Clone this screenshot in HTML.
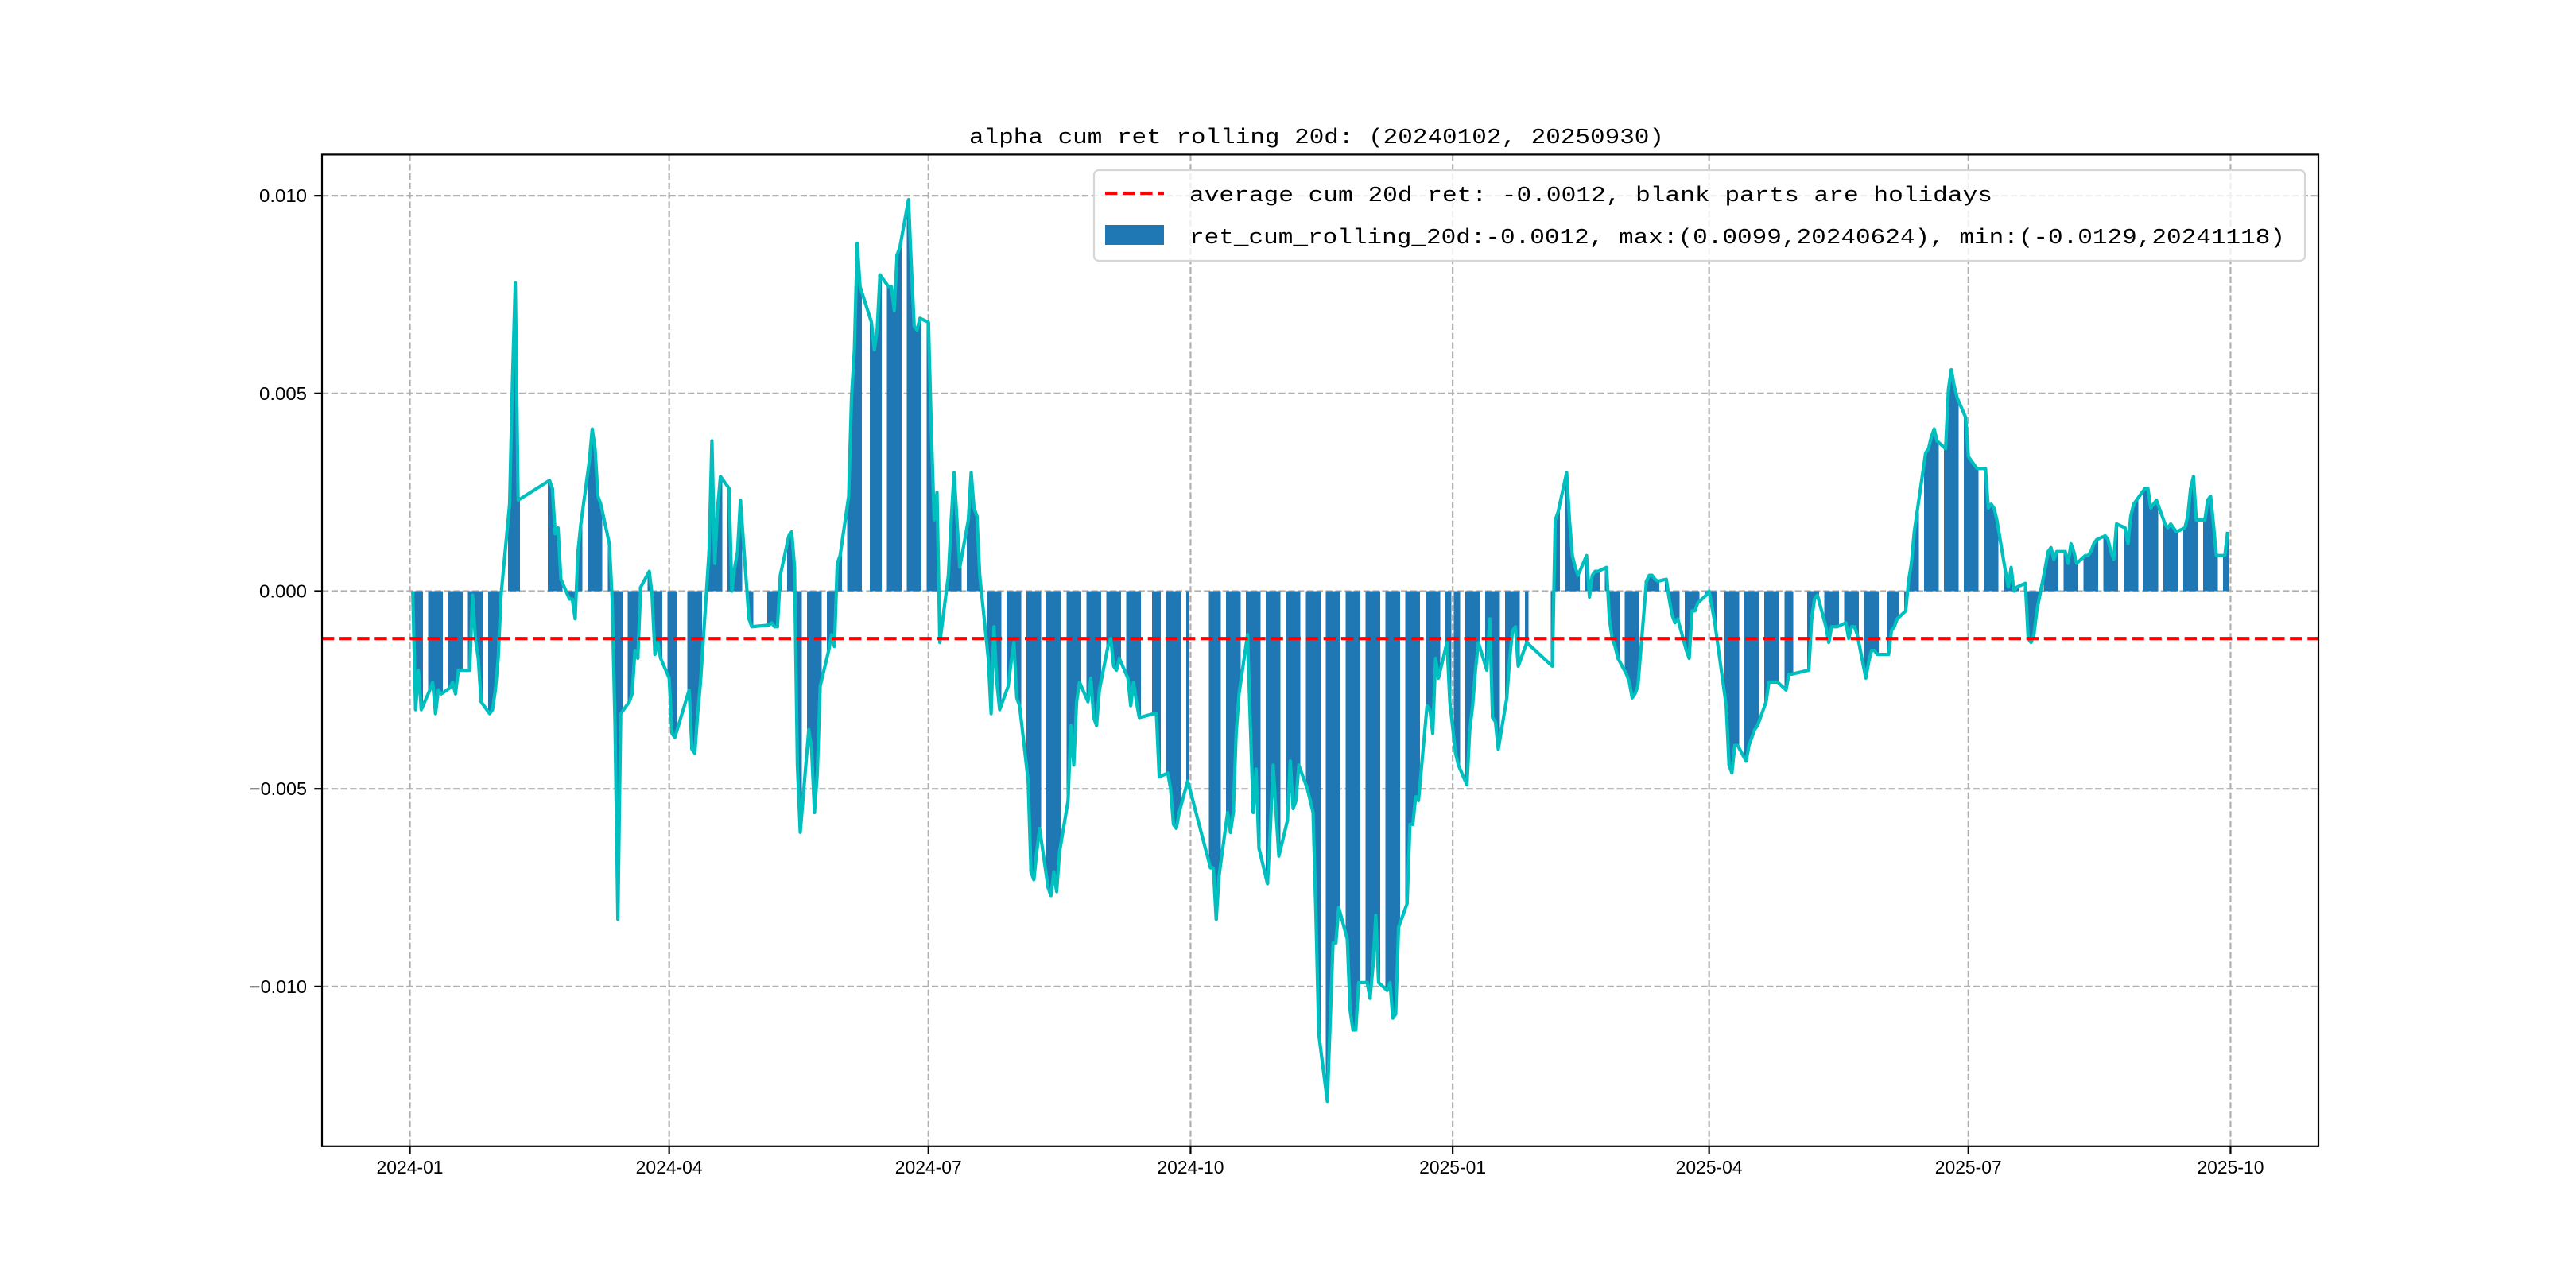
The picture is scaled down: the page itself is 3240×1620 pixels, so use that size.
<!DOCTYPE html>
<html><head><meta charset="utf-8"><title>alpha cum ret rolling 20d</title>
<style>html,body{margin:0;padding:0;background:#fff}svg{display:block}</style></head>
<body>
<svg id="chart" xmlns="http://www.w3.org/2000/svg" width="3240" height="1620" viewBox="0 0 3240 1620">
<rect x="0" y="0" width="3240" height="1620" fill="#fff"/>
<g id="grid"></g>
<g id="bars" shape-rendering="crispEdges"></g>
<g id="lineg"></g>
<g id="avg"></g>
<g id="axes"></g>
<text x="1656" y="180" font-family="Liberation Mono, monospace" font-size="27" textLength="874" lengthAdjust="spacingAndGlyphs" text-anchor="middle">alpha cum ret rolling 20d: (20240102, 20250930)</text>
<g>
<rect x="1376" y="214" width="1523" height="114" rx="6" fill="#fff" fill-opacity="0.8" stroke="#d6d6d6" stroke-width="2.2"/>
<line x1="1390" y1="243" x2="1464" y2="243" stroke="#ff0000" stroke-width="4.2" stroke-dasharray="15.4,6.7"/>
<text x="1496" y="253" font-family="Liberation Mono, monospace" font-size="27" textLength="1010" lengthAdjust="spacingAndGlyphs">average cum 20d ret: -0.0012, blank parts are holidays</text>
<rect x="1390" y="283" width="74" height="25" fill="#1f77b4"/>
<text x="1496" y="306" font-family="Liberation Mono, monospace" font-size="27" textLength="1378" lengthAdjust="spacingAndGlyphs">ret_cum_rolling_20d:-0.0012, max:(0.0099,20240624), min:(-0.0129,20241118)</text>
</g>
</svg>
<script>
const dates = ("240102 240103 240104 240105 240108 240109 240110 240111 240112 240115 240116 240117 240118 240119 240122 240123 240124 240125 240126 240129 240130 240131 240201 240202 240205 240206 240207 240208 240219 240220 240221 240222 240223 240226 240227 240228 240229 240301 240304 240305 240306 240307 240308 240311 240312 240313 240314 240315 240318 240319 240320 240321 240322 240325 240326 240327 240328 240329 240401 240402 240403 240408 240409 240410 240411 240412 240415 240416 240417 240418 240419 240422 240423 240424 240425 240426 240429 240430 240506 240507 240508 240509 240510 240513 240514 240515 240516 240517 240520 240521 240522 240523 240524 240527 240528 240529 240530 240531 240603 240604 240605 240606 240607 240611 240612 240613 240614 240617 240618 240619 240620 240621 240624 240625 240626 240627 240628 240701 240702 240703 240704 240705 240708 240709 240710 240711 240712 240715 240716 240717 240718 240719 240722 240723 240724 240725 240726 240729 240730 240731 240801 240802 240805 240806 240807 240808 240809 240812 240813 240814 240815 240816 240819 240820 240821 240822 240823 240826 240827 240828 240829 240830 240902 240903 240904 240905 240906 240909 240910 240911 240912 240913 240918 240919 240920 240923 240924 240925 240926 240927 240930 241008 241009 241010 241011 241014 241015 241016 241017 241018 241021 241022 241023 241024 241025 241028 241029 241030 241031 241101 241104 241105 241106 241107 241108 241111 241112 241113 241114 241115 241118 241119 241120 241121 241122 241125 241126 241127 241128 241129 241202 241203 241204 241205 241206 241209 241210 241211 241212 241213 241216 241217 241218 241219 241220 241223 241224 241225 241226 241227 241230 241231 " +
"250102 250103 250106 250107 250108 250109 250110 250113 250114 250115 250116 250117 250120 250121 250122 250123 250124 250127 250205 250206 250207 250210 250211 250212 250213 250214 250217 250218 250219 250220 250221 250224 250225 250226 250227 250228 250303 250304 250305 250306 250307 250310 250311 250312 250313 250314 250317 250318 250319 250320 250321 250324 250325 250326 250327 250328 250331 250401 250402 250403 250407 250408 250409 250410 250411 250414 250415 250416 250417 250418 250421 250422 250423 250424 250425 250428 250429 250430 250506 250507 250508 250509 250512 250513 250514 250515 250516 250519 250520 250521 250522 250523 250526 250527 250528 250529 250530 250603 250604 250605 250606 250609 250610 250611 250612 250613 250616 250617 250618 250619 250620 250623 250624 250625 250626 250627 250630 250701 250702 250703 250704 250707 250708 250709 250710 250711 250714 250715 250716 250717 250718 250721 250722 250723 250724 250725 250728 250729 250730 250731 250801 250804 250805 250806 250807 250808 250811 250812 250813 250814 250815 250818 250819 250820 250821 250822 250825 250826 250827 250828 250829 250901 250902 250903 250904 250905 250908 250909 250910 250911 250912 250915 250916 250917 250918 250919 250922 250923 250924 250925 250926 250929 250930").split(" ");
const values = [
0.0000,-0.0030,-0.0020,-0.0030,
-0.0025,-0.0023,-0.0031,-0.0025,-0.0026,
-0.00245,-0.0023,-0.0026,-0.0020,-0.0020,
-0.0020,-0.0001,-0.0012,-0.0017,-0.0028,
-0.0031,-0.0030,-0.0025,-0.0017,-0.0001,
0.0022,0.0053,0.0078,0.0023,
0.0028,0.0026,0.00145,0.0016,0.0003,
-0.0002,-0.0002,-0.0007,0.0010,0.0017,
0.0033,0.0041,0.0036,0.0024,0.0022,
0.0012,-0.0002,-0.0034,-0.0083,-0.0031,
-0.0028,-0.0026,-0.0015,-0.0017,0.0001,
0.0005,-0.0001,-0.0016,-0.0013,-0.0017,
-0.0022,-0.0036,-0.0037,
-0.0025,-0.0040,-0.0041,-0.0031,-0.0023,
0.0010,0.0038,0.0007,0.0021,0.0029,
0.0026,0.0000,0.0006,0.0010,0.0023,
-0.0007,-0.0009,
-0.00086,-0.0008,-0.0009,-0.0009,0.0004,
0.0014,0.0015,0.0006,-0.0044,-0.0061,
-0.0035,-0.0040,-0.0056,-0.0046,-0.0024,
-0.0015,-0.0011,-0.0014,0.0007,0.0009,
0.0024,0.0049,0.0061,0.0088,0.0077,
0.0068,0.0061,0.0066,0.0080,
0.0077,0.0077,0.0071,0.0085,0.0087,
0.0099,0.0082,0.0067,0.0066,0.0069,
0.0068,0.0041,0.0018,0.0025,-0.0013,
0.0004,0.0018,0.0030,0.0018,0.0006,
0.0018,0.0030,0.0021,0.0019,0.0004,
-0.0017,-0.0031,-0.0009,-0.0023,-0.0030,
-0.0024,-0.0018,-0.0013,-0.0027,-0.0029,
-0.0048,-0.0071,-0.0073,-0.0066,-0.0060,
-0.0075,-0.0077,-0.0071,-0.0076,-0.0066,
-0.0053,-0.0034,-0.0044,-0.0028,-0.0023,
-0.0028,-0.0022,-0.0032,-0.0034,-0.0025,
-0.0014,-0.0012,-0.0019,-0.0020,-0.0017,
-0.0022,-0.0029,-0.0023,-0.0028,-0.0032,
-0.0031,-0.0031,-0.0047,
-0.0046,-0.0050,-0.0059,-0.0060,-0.0056,
-0.0048,
-0.0070,-0.0070,-0.0083,-0.0072,
-0.0056,-0.0061,-0.0056,-0.0036,-0.0026,
-0.0011,-0.0034,-0.0056,-0.0045,-0.0065,
-0.0074,-0.0060,-0.0044,-0.0056,-0.0067,
-0.0058,-0.0043,-0.0055,-0.0053,-0.0044,
-0.0050,-0.0053,-0.0056,-0.0082,-0.0112,
-0.0129,-0.0109,-0.0089,-0.0089,-0.0080,
-0.0088,-0.0106,-0.0111,-0.0111,-0.0099,
-0.0099,-0.0103,-0.0095,-0.0082,-0.0099,
-0.0101,-0.0099,-0.0108,-0.0107,-0.0085,
-0.0079,-0.0059,-0.0059,-0.0052,-0.0053,
-0.0029,-0.0030,-0.0036,-0.0017,-0.0022,
-0.0013,-0.0028,
-0.0041,-0.0044,
-0.0049,-0.0035,-0.0029,-0.0020,-0.0013,
-0.0020,-0.0007,-0.0032,-0.0033,-0.0040,
-0.0027,-0.0017,-0.0010,-0.0009,-0.0019,
-0.0013,
-0.0019,0.0018,0.0020,
0.0030,0.0018,0.0009,0.0006,0.0004,
0.0009,-0.00015,0.0004,0.0005,0.0005,
0.0006,-0.0007,-0.0012,-0.0014,-0.0017,
-0.0021,-0.0023,-0.0027,-0.0026,-0.0024,
0.00025,0.0004,0.0004,0.0003,0.00025,
0.0003,-0.0002,-0.0006,-0.0008,-0.0007,
-0.0015,-0.0017,-0.0005,-0.0005,-0.0003,
-0.0001,0.0000,-0.0004,-0.0008,
-0.0029,-0.0044,-0.0046,-0.0039,-0.0039,
-0.0043,-0.0039,-0.0037,-0.0035,-0.0034,
-0.0028,-0.0023,-0.0023,-0.0023,-0.0023,
-0.0025,-0.0021,-0.0021,
-0.0020,-0.0007,-0.0002,-0.0001,
-0.0009,-0.0013,-0.0009,-0.0009,-0.0009,
-0.0008,-0.0012,-0.0009,-0.0009,-0.0011,
-0.0022,-0.0018,-0.0015,-0.0015,-0.0016,
-0.0016,-0.0010,-0.0009,-0.0007,
-0.0005,0.00025,0.0007,0.0015,0.0020,
0.0035,0.0036,0.0039,0.0041,0.0038,
0.0036,0.0051,0.0056,0.0052,0.0049,
0.0044,0.0034,0.0033,0.0032,0.0031,
0.0031,0.0021,0.0022,0.0021,0.0018,
0.0005,0.0001,0.0006,0.0000,0.0001,
0.0002,-0.0012,-0.0013,-0.0011,-0.0005,
0.0006,0.0010,0.0011,0.0008,0.0010,
0.0010,0.0007,0.0012,0.0010,0.0007,
0.0009,0.0009,0.0010,0.0012,0.0013,
0.0014,0.0013,0.0010,0.0008,0.0017,
0.0016,0.0012,0.0019,0.0022,0.0023,
0.0026,0.0026,0.0021,0.0022,0.0023,
0.0017,0.0016,0.0017,0.0016,0.0015,
0.0016,0.0019,0.0026,0.0029,0.0018,
0.0018,0.0023,0.0024,0.0017,0.0009,
0.0009,0.0015];
const averageValue = -0.0012;
const yTicks = [-0.010, -0.005, 0.000, 0.005, 0.010];
const yTickLabels = ["\u22120.010", "\u22120.005", "0.000", "0.005", "0.010"];
const xTicks = ["2024-01-01","2024-04-01","2024-07-01","2024-10-01","2025-01-01","2025-04-01","2025-07-01","2025-10-01"];
const xTickLabels = ["2024-01","2024-04","2024-07","2024-10","2025-01","2025-04","2025-07","2025-10"];

const NS = "http://www.w3.org/2000/svg";
const L = 405, R = 2916, T = 194.4, B = 1441.8;
const DAY = 86400000;
function parseDate(s){ if(s.length===6) return Date.UTC(2000+ +s.slice(0,2), +s.slice(2,4)-1, +s.slice(4,6)); return Date.UTC(+s.slice(0,4), +s.slice(5,7)-1, +s.slice(8,10)); }
const t = dates.map(parseDate);
const tMin = Math.min(...t), tMax = Math.max(...t);
const pad = (tMax - tMin) * 0.05;
const x0 = tMin - pad, x1 = tMax + pad;
const vMin = Math.min(...values), vMax = Math.max(...values);
const vPad = (vMax - vMin) * 0.05;
const y0 = vMin - vPad, y1 = vMax + vPad;
function xScale(ms){ return L + (ms - x0) / (x1 - x0) * (R - L); }
function yScale(v){ return B - (v - y0) / (y1 - y0) * (B - T); }
function mk(tag, attrs, parent){ const e = document.createElementNS(NS, tag); for (const k in attrs) e.setAttribute(k, attrs[k]); parent.appendChild(e); return e; }

const grid = document.getElementById('grid');
yTicks.forEach(function(v){
  const y = yScale(v);
  const gl = mk('line', {x1:L, x2:R, y1:y, y2:y, stroke:'#b0b0b0', 'stroke-width':2.2, 'stroke-dasharray':'8.2,3.6'}, grid);
  
  
});
xTicks.forEach(function(d){
  const x = xScale(parseDate(d));
  const gl = mk('line', {x1:x, x2:x, y1:T, y2:B, stroke:'#b0b0b0', 'stroke-width':2.2, 'stroke-dasharray':'8.2,3.6'}, grid);
  
  
});

const bars = document.getElementById('bars');
const bw = 1.0 * DAY / (x1 - x0) * (R - L) + 0.6;
const zeroY = yScale(0);
values.forEach(function(v, i){
  const x = xScale(t[i]);
  const y = yScale(v);
  const b = mk('rect', {x: x - bw/2, y: Math.min(y, zeroY), width: bw, height: Math.max(Math.abs(zeroY - y), 0.01), fill:'#1f77b4'}, bars);
  
  
});

const lineg = document.getElementById('lineg');
const pts = values.map(function(v, i){ return xScale(t[i]).toFixed(2) + ',' + yScale(v).toFixed(2); }).join(' ');
const pl = mk('polyline', {points: pts, fill:'none', stroke:'#00bfbf', 'stroke-width':4.2, 'stroke-linejoin':'round'}, lineg);



const avg = document.getElementById('avg');
const ay = yScale(averageValue);
const al = mk('line', {x1:L, x2:R, y1:ay, y2:ay, stroke:'#ff0000', 'stroke-width':4.2, 'stroke-dasharray':'15.4,6.7'}, avg);



const axes = document.getElementById('axes');
const frame = mk('rect', {x:L, y:T, width:R-L, height:B-T, fill:'none', stroke:'#000', 'stroke-width':2.2}, axes);


yTicks.forEach(function(v, i){
  const y = yScale(v);
  const tk = mk('line', {x1:L-9.7, x2:L, y1:y, y2:y, stroke:'#000', 'stroke-width':2.2}, axes);
  
  
  const lab = yTickLabels[i];
  const tx = mk('text', {x:386, y:y+8, 'text-anchor':'end', 'font-family':'Liberation Sans, sans-serif', 'font-size':23, textLength: lab.length*12, lengthAdjust:'spacingAndGlyphs'}, axes);
  tx.textContent = lab;
  
  
});
xTicks.forEach(function(d, i){
  const x = xScale(parseDate(d));
  const tk = mk('line', {x1:x, x2:x, y1:B, y2:B+9.7, stroke:'#000', 'stroke-width':2.2}, axes);
  
  
  const tx = mk('text', {x:x, y:1476, 'text-anchor':'middle', 'font-family':'Liberation Sans, sans-serif', 'font-size':23, textLength:84, lengthAdjust:'spacingAndGlyphs'}, axes);
  tx.textContent = xTickLabels[i];
  
  
});
</script>
</body></html>
